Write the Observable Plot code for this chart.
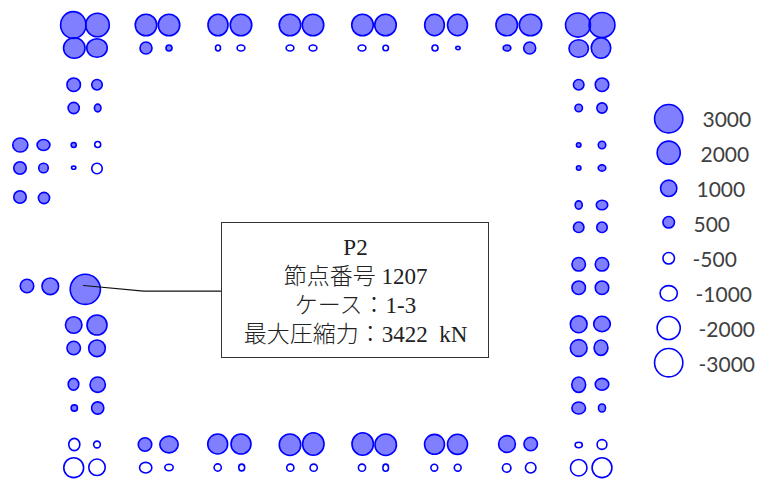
<!DOCTYPE html>
<html>
<head>
<meta charset="utf-8">
<script src="https://cdn.jsdelivr.net/npm/d3@7"></script>
<script src="https://cdn.jsdelivr.net/npm/@observablehq/plot@0.6"></script>
<style>html,body{margin:0;padding:0;background:#fff}svg{display:block}</style>
</head>
<body>
<div id="chart"></div>
<script>
// Pile nodes on the plan: [plan x, plan y, axial force (kN), ellipse aspect]
const topPiles = [
  [73.3,25,2540,.95],[97.5,25,2074,1],[74.3,48,1660,1.05],[97,48,1430,1.1],
  [146,25,1736,1],[169,25,1736,1],[146,48,541,1],[169,48,135,1],
  [218,25,1620,.93],[241,25,1736,1],[218,48,-110,.85],[241,48,-174,1.3],
  [290,25,1736,1],[313,25,1736,1],[290,48,-174,1.3],[313,48,-174,1.3],
  [362.5,25,1736,1],[385.5,25,1736,1],[362,48,-174,1.3],[385.7,48,-114,1],
  [434.5,25,1578,.92],[457.5,25,1600,.93],[435,48,-135,1],[458,48,-55,1.35],
  [506.7,25,1736,1],[530.5,25,1800,1.05],[507,48,174,1.3],[529.7,48,541,1],
  [578,25,2254,1.03],[602,25,2440,1.03],[578.7,48.5,1285,1.1],[601,48,1500,.95]
];
const leftPiles = [
  [73.7,84.7,685,1],[97,84.7,414,1],[73.7,108,470,1],[97.7,108,190,.85],
  [73.7,145,94,1],[97.7,144.5,-135,1],[73.7,167.7,-50,1.4],[97,168.5,-414,1],
  [20.3,145,800,1.07],[43.5,145,535,1.15],[20,168,587,1],[43.5,168,339,1],
  [20,197,587,1],[44,198,470,1],
  [27,286,685,1],[50.3,286.3,1040,1],[85.3,289.3,3422,1],
  [73.7,325,1022,1],[97,325,1500,1],[73.7,348,685,1],[97,348.3,1040,1],
  [73.5,384.3,470,.9],[97.7,384.7,880,1],[74.3,408,150,1],[97.7,408,560,1],
  [74.3,444.5,-510,.9],[97,444.5,-170,1],[73.7,467.7,-1480,1],[97,467.3,-1022,1]
];
const bottomPiles = [
  [145,444.5,685,1],[169,444.5,1150,1.1],[145.7,467.7,-490,1.15],[169,467.5,-200,1.3],
  [217.7,444,1490,1],[241,444,1500,1],[217.7,467.5,-195,1],[241.7,467.5,-150,.88],
  [290,444.7,1736,1],[313.3,444,1800,.96],[290.3,467.7,-195,1],[313.7,467.7,-195,1],
  [362.7,444,1800,.96],[385.7,444.7,1736,1],[362,467.7,-195,1],[385.7,467.7,-150,.8],
  [434.5,444.3,1490,1],[457.5,444.3,1510,1],[434.3,467.7,-174,1],[457.7,467.7,-174,1],
  [507,444,1060,1],[530.7,444,685,1],[506.7,468,-271,1],[530.7,467.7,-414,1],
  [578.7,445,-145,1.33],[602,444.5,-360,1],[578.7,467.7,-1022,1],[602,467.7,-1480,1]
];
const rightPiles = [
  [578.7,84.7,414,1],[602,84.7,685,1],[578.7,108,211,1],[602,108,400,1],
  [578.7,145,76,1],[602,145,211,1],[578.7,168,76,1],[602,168,180,1.2],
  [578.7,205,220,.85],[602,205,410,1.2],[578.7,227.3,414,1],[602,227.3,414,1],
  [578.7,264.3,685,1],[602,264.3,685,1],[578.7,287.7,685,1],[602,287.7,685,1],
  [578.7,324.3,1060,1],[602,324,960,1.08],[578.7,348,1060,1],[601,347.7,800,.9],
  [578.7,384.7,800,.9],[602,384.3,600,1.15],[578.7,408,620,1.13],[602,408,215,.87]
];
// Legend: [value, aspect, dot x, dot y, label x, label y]
const legendKeys = [
  [3000,1,668.7,118.7,702,120],[2000,1,668.7,152.7,700,155],
  [1000,1,668.7,188.3,696,190],[500,1,668.7,222.3,693,225],
  [-500,1,668.7,258.3,692,260],[-1000,1.12,668.7,293.3,695,295],
  [-2000,1,668.7,328,698,330],[-3000,1,668.7,362.7,698,365]
];
const calloutLines = [
  ["P2",247],["節点番号 1207",276.5],["ケース\uff1a1-3",305],["最大圧縮力\uff1a3422\u00a0\u00a0kN",334]
];
const calloutBox = [{x1:221.5,x2:488.5,y1:222.5,y2:357.5}];
const leader = [[83,285],[143,290.7],[220,290.7]];

const piles = [...topPiles,...leftPiles,...bottomPiles,...rightPiles]
  .map(([x,y,force,aspect])=>({x,y,force,aspect}));
const legend = legendKeys.map(([force,aspect,x,y,lx,ly])=>({force,aspect,x,y,lx,ly}));
const dots = [...piles,...legend];

function ellipse(a){
  return {draw(ctx,size){
    const r=Math.sqrt(size/Math.PI),rx=r*Math.sqrt(a),ry=r/Math.sqrt(a),k=0.5523;
    ctx.moveTo(rx,0);
    ctx.bezierCurveTo(rx,k*ry,k*rx,ry,0,ry);
    ctx.bezierCurveTo(-k*rx,ry,-rx,k*ry,-rx,0);
    ctx.bezierCurveTo(-rx,-k*ry,-k*rx,-ry,0,-ry);
    ctx.bezierCurveTo(k*rx,-ry,rx,-k*ry,rx,0);
    ctx.closePath();
  }};
}
const aspects = [...new Set(dots.map(d=>d.aspect))];
const dotOpts = {x:"x",y:"y",dx:-0.5,dy:-0.5,r:d=>Math.abs(d.force),symbol:"aspect",stroke:"#0000ff",strokeWidth:1.6};

const chart = Plot.plot({
  width:759,height:480,margin:0,
  style:{background:"#fff",overflow:"visible"},
  x:{domain:[0,759],range:[0,759],axis:null},
  y:{domain:[0,480],range:[0,480],axis:null},
  r:{type:"sqrt",domain:[0,3422],range:[0,15.1]},
  symbol:{type:"ordinal",domain:aspects,range:aspects.map(ellipse)},
  marks:[
    Plot.dot(dots,{...dotOpts,filter:d=>d.force>0,fill:"#0000ff",fillOpacity:.5}),
    Plot.dot(dots,{...dotOpts,filter:d=>d.force<0,fill:"#fff"}),
    Plot.rect(calloutBox,{x1:"x1",x2:"x2",y1:"y1",y2:"y2",fill:"#fff",stroke:"#333",strokeWidth:1}),
    Plot.line(leader,{x:d=>d[0],y:d=>d[1],stroke:"#111",strokeWidth:1.2}),
    Plot.text(calloutLines,{x:()=>355,y:d=>d[1],text:d=>d[0],fontSize:23,fontWeight:300,
      fill:"#222",fontFamily:"'Liberation Serif','Noto Sans CJK JP',serif",textAnchor:"middle"}),
    Plot.text(legend,{x:"lx",y:"ly",text:d=>String(d.force),fontSize:21,fill:"#404040",
      fontFamily:"Lato,'Open Sans',sans-serif",textAnchor:"start"})
  ]
});
document.getElementById("chart").appendChild(chart);
</script>
</body>
</html>
